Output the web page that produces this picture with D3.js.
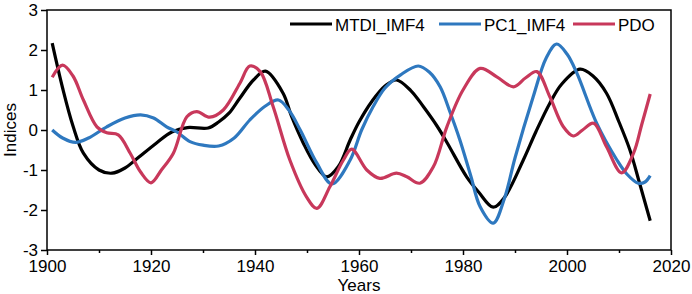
<!DOCTYPE html>
<html><head><meta charset="utf-8">
<script src="https://cdn.jsdelivr.net/npm/d3@7"></script>
<style>body{margin:0;background:#fff}svg{display:block;font-family:"Liberation Sans",Arial,sans-serif}</style>
</head><body><svg id="c" width="692" height="294"></svg>
<script>
const seriesNames = ["MTDI_IMF4", "PC1_IMF4", "PDO"];
const seriesColors = ["#000000", "#2e78bf", "#c8385b"];

const mtdiYears = [1901,1903,1905,1907,1910,1912.5,1915,1917,1921,1924,1927,1931,1933,1935,1937,1939.7,1942,1945.4,1947,1949.3,1951.5,1953.8,1956,1958.3,1960,1962.5,1965,1967.2,1970,1972.4,1975,1977,1980.7,1983,1985.8,1988,1991.6,1994,1996.7,1999,2002.5,2005,2007.6,2010,2012.1,2014,2016];
const mtdiValues = [2.17,1.05,0.1,-0.58,-1.0,-1.08,-0.95,-0.75,-0.33,-0.05,0.06,0.05,0.2,0.42,0.78,1.25,1.47,0.92,0.35,-0.33,-0.85,-1.17,-0.92,-0.25,0.2,0.72,1.1,1.25,0.98,0.58,0.1,-0.33,-1.17,-1.55,-1.93,-1.68,-0.75,-0.05,0.67,1.15,1.52,1.35,0.92,0.2,-0.5,-1.35,-2.27];

const pc1Years = [1901,1903,1905.5,1908,1911.5,1915,1918,1920.5,1923,1925,1927.5,1930,1933,1936,1939,1942,1944.5,1946.5,1948.7,1951.9,1954.8,1958.3,1960.5,1962.7,1965,1968,1971.4,1973.5,1975.6,1977.5,1979.4,1981.5,1983.3,1985.8,1988,1990,1993.5,1996,1998,2000,2001.9,2005.7,2009.6,2011.5,2013.7,2015,2016];
const pc1Values = [0,-0.2,-0.31,-0.2,0.08,0.3,0.38,0.3,0.08,-0.05,-0.29,-0.38,-0.4,-0.2,0.25,0.6,0.75,0.5,0,-0.83,-1.35,-0.75,0,0.58,1.05,1.38,1.6,1.45,1.08,0.45,-0.25,-1.15,-1.92,-2.33,-1.7,-0.7,0.83,1.8,2.15,1.9,1.42,0.17,-0.75,-1.1,-1.33,-1.3,-1.14];

const pdoYears = [1901,1903,1905,1907,1909.6,1911.5,1913.7,1916,1918,1920,1922,1924.3,1926.9,1928.8,1931.3,1933.9,1937.1,1939,1941,1943.5,1946.7,1949.9,1951.9,1954.4,1957,1958.6,1961.5,1964,1967.2,1969.2,1971.7,1974.3,1976.9,1980,1983.3,1986.5,1989.7,1992,1994.2,1996.7,1999.3,2001.2,2003,2005.1,2007.6,2010.5,2012.8,2014.4,2016];
const pdoValues = [1.32,1.62,1.35,0.75,0.08,-0.07,-0.12,-0.58,-1.05,-1.32,-1.0,-0.58,0.33,0.46,0.32,0.5,1.17,1.6,1.46,0.58,-0.75,-1.67,-1.96,-1.42,-0.75,-0.48,-1.0,-1.21,-1.08,-1.17,-1.33,-0.92,0.08,1.0,1.54,1.33,1.08,1.3,1.46,0.83,0.08,-0.15,0.0,0.17,-0.42,-1.07,-0.58,0.15,0.9];

const xTicks = [1900,1920,1940,1960,1980,2000,2020];
const xMinorTicks = [1910,1930,1950,1970,1990,2010];
const yTicks = [-3,-2,-1,0,1,2,3];

const svg = d3.select("#c");
const L = 47, R = 671, T = 10, B = 250;
const x = d3.scaleLinear().domain([1900, 2020]).range([L, R]);
const y = d3.scaleLinear().domain([-3, 3]).range([B, T]);

// axes
const fs = "17px";
const gx = svg.append("g").attr("transform", `translate(0,${B})`)
  .call(d3.axisBottom(x).tickValues(xTicks).tickFormat(d3.format("d")).tickSize(5).tickPadding(5));
const gxm = svg.append("g").attr("transform", `translate(0,${B})`)
  .call(d3.axisBottom(x).tickValues(xMinorTicks).tickFormat("").tickSize(3));
const gy = svg.append("g").attr("transform", `translate(${L},0)`)
  .call(d3.axisLeft(y).tickValues(yTicks).tickFormat(d => d).tickSize(6).tickPadding(3));
[gx, gxm, gy].forEach(g => {
  g.select(".domain").remove();
  g.selectAll("line").attr("stroke", "#000").attr("stroke-width", 1.5);
  g.selectAll("text").attr("font-size", fs).attr("fill", "#000").attr("font-family", "Liberation Sans, Arial, sans-serif");
});
gy.selectAll("text").attr("dy", "0.3em");

// frame
svg.append("rect").attr("x", L).attr("y", T).attr("width", R - L).attr("height", B - T)
  .attr("fill", "none").attr("stroke", "#000").attr("stroke-width", 1.5);

// series
const seriesYears = [mtdiYears, pc1Years, pdoYears];
const seriesValues = [mtdiValues, pc1Values, pdoValues];
const line = d3.line().x(d => x(d[0])).y(d => y(d[1])).curve(d3.curveCatmullRom.alpha(0.5));
seriesNames.forEach((n, i) => {
  const pts = seriesYears[i].map((yr, k) => [yr, seriesValues[i][k]]);
  svg.append("path").datum(pts).attr("d", line)
    .attr("fill", "none").attr("stroke", seriesColors[i]).attr("stroke-width", 3.2)
    .attr("stroke-linejoin", "round").attr("stroke-linecap", "butt");
});

// legend
const legX = [290, 439, 573];
const legY = 24;
seriesNames.forEach((n, i) => {
  svg.append("line").attr("x1", legX[i]).attr("x2", legX[i] + 42).attr("y1", legY).attr("y2", legY)
    .attr("stroke", seriesColors[i]).attr("stroke-width", 3.2);
  svg.append("text").attr("x", legX[i] + 45).attr("y", legY + 6.5).attr("font-size", fs)
    .attr("fill", "#000").text(n);
});

// axis titles
svg.append("text").attr("x", (L + R) / 2).attr("y", 291).attr("text-anchor", "middle")
  .attr("font-size", fs).attr("fill", "#000").text("Years");
svg.append("text").attr("transform", "translate(15.5,130) rotate(-90)").attr("text-anchor", "middle")
  .attr("font-size", fs).attr("fill", "#000").text("Indices");
</script></body></html>
